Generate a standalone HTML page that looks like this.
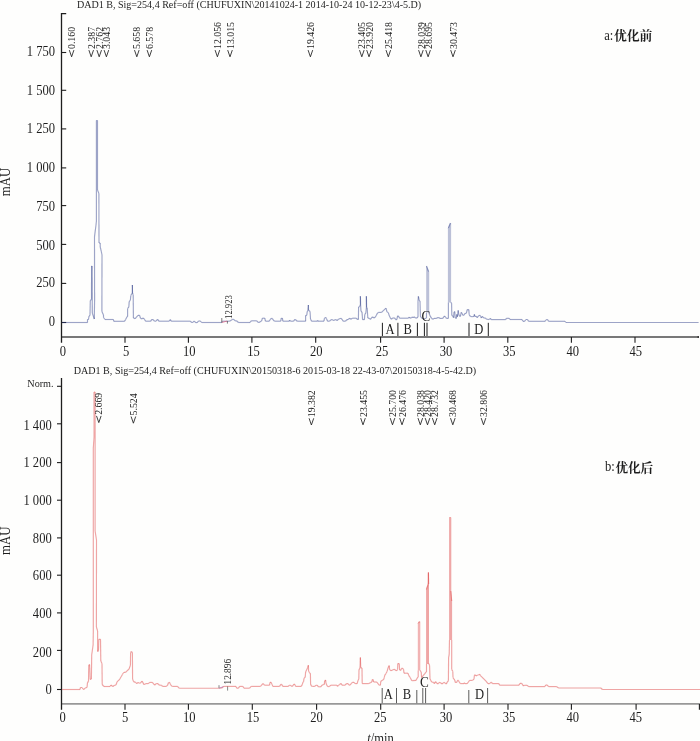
<!DOCTYPE html><html><head><meta charset="utf-8"><style>html,body{margin:0;padding:0;background:#fefefd}svg{display:block}</style></head><body><svg width="700" height="741" viewBox="0 0 700 741">
<rect width="700" height="741" fill="#fefefd"/>
<g opacity="0.999">
<path d="M61.5,336.9H698.8" stroke="#787878" stroke-width="2" fill="none"/>
<path d="M66.2,13.6H61.5V342.8" stroke="#1e1e1e" stroke-width="1.3" fill="none"/>
<g stroke="#1e1e1e" stroke-width="1.1" fill="none">
<path d="M61.5,322.5H66.2"/>
<path d="M61.5,283.4H66.2"/>
<path d="M61.5,244.4H66.2"/>
<path d="M61.5,205.6H66.2"/>
<path d="M61.5,167.9H66.2"/>
<path d="M61.5,128.9H66.2"/>
<path d="M61.5,90.3H66.2"/>
<path d="M61.5,52.5H66.2"/>
<path d="M125.0,337V342.8"/>
<path d="M188.4,337V342.8"/>
<path d="M251.9,337V342.8"/>
<path d="M315.7,337V342.8"/>
<path d="M380.6,337V342.8"/>
<path d="M444.1,337V342.8"/>
<path d="M507.8,337V342.8"/>
<path d="M571.4,337V342.8"/>
<path d="M635.0,337V342.8"/>
<path d="M698.2,336V338"/>
</g>
<g font-family="Liberation Serif, serif" font-size="13.3" fill="#1e1e1e">
<text transform="translate(55.00,325.80) scale(0.945,1.09)" font-size="13.3" text-anchor="end" >0</text>
<text transform="translate(55.00,287.10) scale(0.945,1.09)" font-size="13.3" text-anchor="end" >250</text>
<text transform="translate(55.00,249.90) scale(0.945,1.09)" font-size="13.3" text-anchor="end" >500</text>
<text transform="translate(55.00,211.00) scale(0.945,1.09)" font-size="13.3" text-anchor="end" >750</text>
<text transform="translate(55.00,171.60) scale(0.945,1.09)" font-size="13.3" text-anchor="end" >1 000</text>
<text transform="translate(55.00,132.80) scale(0.945,1.09)" font-size="13.3" text-anchor="end" >1 250</text>
<text transform="translate(55.00,95.20) scale(0.945,1.09)" font-size="13.3" text-anchor="end" >1 500</text>
<text transform="translate(55.00,56.20) scale(0.945,1.09)" font-size="13.3" text-anchor="end" >1 750</text>
<text transform="translate(62.90,355.50) scale(0.945,1.09)" font-size="13.3" text-anchor="middle" >0</text>
<text transform="translate(126.10,355.50) scale(0.945,1.09)" font-size="13.3" text-anchor="middle" >5</text>
<text transform="translate(189.30,355.50) scale(0.945,1.09)" font-size="13.3" text-anchor="middle" >10</text>
<text transform="translate(253.60,355.50) scale(0.945,1.09)" font-size="13.3" text-anchor="middle" >15</text>
<text transform="translate(316.30,355.50) scale(0.945,1.09)" font-size="13.3" text-anchor="middle" >20</text>
<text transform="translate(381.90,355.50) scale(0.945,1.09)" font-size="13.3" text-anchor="middle" >25</text>
<text transform="translate(445.90,355.50) scale(0.945,1.09)" font-size="13.3" text-anchor="middle" >30</text>
<text transform="translate(509.30,355.50) scale(0.945,1.09)" font-size="13.3" text-anchor="middle" >35</text>
<text transform="translate(572.70,355.50) scale(0.945,1.09)" font-size="13.3" text-anchor="middle" >40</text>
<text transform="translate(635.70,355.50) scale(0.945,1.09)" font-size="13.3" text-anchor="middle" >45</text>
</g>
<path d="M61.5,703.8H700" stroke="#989898" stroke-width="1.7" fill="none"/>
<path d="M61.5,378V709.7" stroke="#1e1e1e" stroke-width="1.3" fill="none"/>
<g stroke="#1e1e1e" stroke-width="1.1" fill="none">
<path d="M57,689.5H61.5"/>
<path d="M57,650.4H61.5"/>
<path d="M57,612.9H61.5"/>
<path d="M57,575.2H61.5"/>
<path d="M57,537.9H61.5"/>
<path d="M57,500.2H61.5"/>
<path d="M57,462.6H61.5"/>
<path d="M57,423.8H61.5"/>
<path d="M57,386.3H61.5"/>
<path d="M125.0,704V709.7"/>
<path d="M188.4,704V709.7"/>
<path d="M252.3,704V709.7"/>
<path d="M316.6,704V709.7"/>
<path d="M380.7,704V709.7"/>
<path d="M444.1,704V709.7"/>
<path d="M508.0,704V709.7"/>
<path d="M571.4,704V709.7"/>
<path d="M636.1,704V709.7"/>
<path d="M699.4,704V709.7"/>
</g>
<g font-family="Liberation Serif, serif" font-size="13.3" fill="#1e1e1e">
<text transform="translate(51.70,694.00) scale(0.945,1.09)" font-size="13.3" text-anchor="end" >0</text>
<text transform="translate(51.70,656.80) scale(0.945,1.09)" font-size="13.3" text-anchor="end" >200</text>
<text transform="translate(51.70,617.80) scale(0.945,1.09)" font-size="13.3" text-anchor="end" >400</text>
<text transform="translate(51.70,580.00) scale(0.945,1.09)" font-size="13.3" text-anchor="end" >600</text>
<text transform="translate(51.70,542.80) scale(0.945,1.09)" font-size="13.3" text-anchor="end" >800</text>
<text transform="translate(51.70,505.30) scale(0.945,1.09)" font-size="13.3" text-anchor="end" >1 000</text>
<text transform="translate(51.70,467.30) scale(0.945,1.09)" font-size="13.3" text-anchor="end" >1 200</text>
<text transform="translate(51.70,430.00) scale(0.945,1.09)" font-size="13.3" text-anchor="end" >1 400</text>
<text transform="translate(62.60,722.00) scale(0.945,1.09)" font-size="13.3" text-anchor="middle" >0</text>
<text transform="translate(125.20,722.00) scale(0.945,1.09)" font-size="13.3" text-anchor="middle" >5</text>
<text transform="translate(189.30,722.00) scale(0.945,1.09)" font-size="13.3" text-anchor="middle" >10</text>
<text transform="translate(253.10,722.00) scale(0.945,1.09)" font-size="13.3" text-anchor="middle" >15</text>
<text transform="translate(316.60,722.00) scale(0.945,1.09)" font-size="13.3" text-anchor="middle" >20</text>
<text transform="translate(380.20,722.00) scale(0.945,1.09)" font-size="13.3" text-anchor="middle" >25</text>
<text transform="translate(445.90,722.00) scale(0.945,1.09)" font-size="13.3" text-anchor="middle" >30</text>
<text transform="translate(508.90,722.00) scale(0.945,1.09)" font-size="13.3" text-anchor="middle" >35</text>
<text transform="translate(572.70,722.00) scale(0.945,1.09)" font-size="13.3" text-anchor="middle" >40</text>
<text transform="translate(635.70,722.00) scale(0.945,1.09)" font-size="13.3" text-anchor="middle" >45</text>
</g>
<g font-family="Liberation Serif, serif" fill="#1e1e1e"><text transform="translate(53.60,386.70) scale(1.0,1.09)" font-size="10.2" text-anchor="end" >Norm.</text></g>
<g font-family="Liberation Serif, serif" fill="#1e1e1e">
<text transform="translate(76.90,7.90) scale(1.0,1.09)" font-size="10.07" text-anchor="start" >DAD1 B, Sig=254,4 Ref=off (CHUFUXIN\20141024-1 2014-10-24 10-12-23\4-5.D)</text>
<text transform="translate(73.70,374.40) scale(1.0,1.09)" font-size="10.1" text-anchor="start" >DAD1 B, Sig=254,4 Ref=off (CHUFUXIN\20150318-6 2015-03-18 22-43-07\20150318-4-5-42.D)</text>
<text transform="translate(9.50,196.30) rotate(-90) scale(1.0,1.08)" font-size="12.8" text-anchor="start" >mAU</text>
<text transform="translate(9.50,554.90) rotate(-90) scale(1.0,1.08)" font-size="12.8" text-anchor="start" >mAU</text>
<text transform="translate(367.20,742.80) scale(1.0,1.09)" font-size="12.6" text-anchor="start" ><tspan font-style="italic">t</tspan>/min</text>
</g>
<g stroke="#273785" stroke-opacity="0.45" stroke-width="1.15" stroke-linecap="butt" fill="none"><path d="M62.0,322.5L87.5,322.5"/><path d="M87.5,322.5L87.5,319.5"/><path d="M87.5,319.5L88.5,319.5"/><path d="M88.5,319.5L89.0,316.0"/><path d="M89.0,316.0L90.0,315.5"/><path d="M90.0,315.5L90.3,300.5"/><path d="M90.3,300.5L91.5,299.5"/><path d="M91.5,299.5L91.6,266.0"/><path d="M91.6,266.0L92.1,266.0"/><path d="M92.1,266.0L92.3,313.0"/><path d="M92.3,313.0L94.3,319.0"/><path d="M94.3,319.0L94.6,300.0"/><path d="M94.6,300.0L94.5,236.6"/><path d="M94.5,236.6L96.0,225.0"/><path d="M96.0,225.0L96.4,221.0"/><path d="M96.4,221.0L96.4,120.5"/><path d="M96.4,120.5L97.5,120.5"/><path d="M97.5,120.5L97.5,190.0"/><path d="M97.5,190.0L98.9,193.5"/><path d="M98.9,193.5L99.0,243.0"/><path d="M99.0,243.0L100.2,243.0"/><path d="M100.2,243.0L100.2,247.0"/><path d="M100.2,247.0L101.0,250.0"/><path d="M101.0,250.0L102.0,255.0"/><path d="M102.0,255.0L101.9,311.6"/><path d="M101.9,311.6L103.5,315.0"/><path d="M103.5,315.0L103.5,317.5"/><path d="M103.5,317.5L105.0,319.5"/><path d="M105.0,319.5L113.4,319.5"/><path d="M113.4,319.5L113.8,321.3"/><path d="M113.8,321.3L124.4,321.3"/><path d="M124.4,321.3L125.6,319.6"/><path d="M125.6,319.6L126.4,318.0"/><path d="M126.4,318.0L127.2,316.4"/><path d="M127.2,316.4L127.6,316.4"/><path d="M127.6,316.4L127.6,308.4"/><path d="M127.6,308.4L128.8,307.2"/><path d="M128.8,307.2L129.2,301.6"/><path d="M129.2,301.6L130.4,300.0"/><path d="M130.4,300.0L130.8,295.6"/><path d="M130.8,295.6L131.6,294.0"/><path d="M131.6,294.0L132.4,293.2"/><path d="M132.4,293.2L132.4,285.0"/><path d="M132.4,285.0L132.5,293.2"/><path d="M132.5,293.2L133.2,294.4"/><path d="M133.2,294.4L133.4,318.0"/><path d="M133.4,318.0L135.2,318.6"/><path d="M135.2,318.6L136.0,317.6"/><path d="M136.0,317.6L138.0,315.4"/><path d="M138.0,315.4L139.6,315.4"/><path d="M139.6,315.4L140.4,318.0"/><path d="M140.4,318.0L141.6,319.0"/><path d="M141.6,319.0L143.2,318.0"/><path d="M143.2,318.0L144.4,319.2"/><path d="M144.4,319.2L145.6,321.2"/><path d="M145.6,321.2L150.8,321.2"/><path d="M150.8,321.2L151.6,319.6"/><path d="M151.6,319.6L153.2,319.6"/><path d="M153.2,319.6L154.4,321.2"/><path d="M154.4,321.2L156.0,321.2"/><path d="M156.0,321.2L157.2,319.6"/><path d="M157.2,319.6L158.0,319.6"/><path d="M158.0,319.6L158.8,321.2"/><path d="M158.8,321.2L169.2,321.2"/><path d="M169.2,321.2L170.4,319.6"/><path d="M170.4,319.6L171.2,321.2"/><path d="M171.2,321.2L190.4,321.2"/><path d="M190.4,321.2L191.6,322.5"/><path d="M191.6,322.5L192.8,322.5"/><path d="M192.8,322.5L193.6,321.2"/><path d="M193.6,321.2L194.4,321.2"/><path d="M194.4,321.2L195.6,322.6"/><path d="M195.6,322.6L197.2,322.6"/><path d="M197.2,322.6L198.4,321.0"/><path d="M198.4,321.0L200.4,321.0"/><path d="M200.4,321.0L201.6,322.5"/><path d="M201.6,322.5L221.8,322.5"/><path d="M221.8,322.5L222.4,321.2"/><path d="M222.4,321.2L229.6,321.2"/><path d="M229.6,321.2L231.6,320.0"/><path d="M231.6,320.0L232.4,319.4"/><path d="M232.4,319.4L233.6,319.4"/><path d="M233.6,319.4L235.2,320.8"/><path d="M235.2,320.8L236.8,320.8"/><path d="M236.8,320.8L238.4,322.5"/><path d="M238.4,322.5L250.0,322.5"/><path d="M250.0,322.5L251.2,320.8"/><path d="M251.2,320.8L256.8,320.8"/><path d="M256.8,320.8L258.4,322.5"/><path d="M258.4,322.5L259.2,322.5"/><path d="M259.2,322.5L260.8,321.2"/><path d="M260.8,321.2L261.6,321.2"/><path d="M261.6,321.2L262.4,318.2"/><path d="M262.4,318.2L264.8,318.2"/><path d="M264.8,318.2L265.4,321.2"/><path d="M265.4,321.2L269.2,321.2"/><path d="M269.2,321.2L270.4,319.2"/><path d="M270.4,319.2L271.6,318.2"/><path d="M271.6,318.2L272.4,318.6"/><path d="M272.4,318.6L273.2,320.0"/><path d="M273.2,320.0L274.4,321.2"/><path d="M274.4,321.2L280.8,321.2"/><path d="M280.8,321.2L281.2,318.2"/><path d="M281.2,318.2L282.4,318.2"/><path d="M282.4,318.2L282.8,321.2"/><path d="M282.8,321.2L289.2,321.2"/><path d="M289.2,321.2L289.6,320.2"/><path d="M289.6,320.2L290.4,321.2"/><path d="M290.4,321.2L293.6,321.2"/><path d="M293.6,321.2L294.8,319.4"/><path d="M294.8,319.4L295.6,319.8"/><path d="M295.6,319.8L297.2,321.2"/><path d="M297.2,321.2L305.6,321.2"/><path d="M305.6,321.2L305.6,315.6"/><path d="M305.6,315.6L306.8,315.2"/><path d="M306.8,315.2L307.2,311.6"/><path d="M307.2,311.6L308.0,310.4"/><path d="M308.0,310.4L308.4,305.0"/><path d="M308.4,305.0L308.5,310.0"/><path d="M308.5,310.0L309.2,310.8"/><path d="M309.2,310.8L310.0,311.2"/><path d="M310.0,311.2L310.5,319.0"/><path d="M310.5,319.0L311.6,321.2"/><path d="M311.6,321.2L317.2,321.2"/><path d="M317.2,321.2L317.6,320.4"/><path d="M317.6,320.4L318.0,321.2"/><path d="M318.0,321.2L324.0,321.2"/><path d="M324.0,321.2L324.4,318.4"/><path d="M324.4,318.4L325.6,317.4"/><path d="M325.6,317.4L326.4,318.4"/><path d="M326.4,318.4L327.6,321.2"/><path d="M327.6,321.2L329.6,321.2"/><path d="M329.6,321.2L331.2,319.6"/><path d="M331.2,319.6L332.4,319.6"/><path d="M332.4,319.6L333.6,320.6"/><path d="M333.6,320.6L335.6,319.6"/><path d="M335.6,319.6L337.2,320.6"/><path d="M337.2,320.6L338.4,319.2"/><path d="M338.4,319.2L340.8,318.2"/><path d="M340.8,318.2L342.0,319.2"/><path d="M342.0,319.2L343.2,321.2"/><path d="M343.2,321.2L345.6,321.2"/><path d="M345.6,321.2L346.8,319.6"/><path d="M346.8,319.6L348.0,319.6"/><path d="M348.0,319.6L349.6,318.2"/><path d="M349.6,318.2L350.8,319.2"/><path d="M350.8,319.2L352.4,318.2"/><path d="M352.4,318.2L356.4,318.2"/><path d="M356.4,318.2L357.2,319.4"/><path d="M357.2,319.4L358.4,319.4"/><path d="M358.4,319.4L358.6,307.0"/><path d="M358.6,307.0L359.6,306.4"/><path d="M359.6,306.4L360.4,304.8"/><path d="M360.4,304.8L360.4,296.2"/><path d="M360.4,296.2L360.6,305.0"/><path d="M360.6,305.0L361.0,311.2"/><path d="M361.0,311.2L362.0,312.0"/><path d="M362.0,312.0L362.6,319.6"/><path d="M362.6,319.6L364.4,319.6"/><path d="M364.4,319.6L364.8,314.4"/><path d="M364.8,314.4L365.8,313.2"/><path d="M365.8,313.2L366.4,307.6"/><path d="M366.4,307.6L366.4,296.2"/><path d="M366.4,296.2L366.6,307.6"/><path d="M366.6,307.6L367.2,308.0"/><path d="M367.2,308.0L367.8,318.0"/><path d="M367.8,318.0L369.2,318.4"/><path d="M369.2,318.4L370.4,319.4"/><path d="M370.4,319.4L371.2,318.4"/><path d="M371.2,318.4L372.4,316.8"/><path d="M372.4,316.8L374.0,318.0"/><path d="M374.0,318.0L375.2,317.2"/><path d="M375.2,317.2L376.4,315.2"/><path d="M376.4,315.2L377.2,313.6"/><path d="M377.2,313.6L378.4,312.4"/><path d="M378.4,312.4L381.6,312.4"/><path d="M381.6,312.4L382.8,311.2"/><path d="M382.8,311.2L386.0,308.2"/><path d="M386.0,308.2L386.4,309.4"/><path d="M386.4,309.4L386.8,311.6"/><path d="M386.8,311.6L388.4,312.8"/><path d="M388.4,312.8L389.2,315.6"/><path d="M389.2,315.6L390.0,317.2"/><path d="M390.0,317.2L390.8,318.8"/><path d="M390.8,318.8L391.6,319.2"/><path d="M391.6,319.2L392.4,318.0"/><path d="M392.4,318.0L394.8,318.0"/><path d="M394.8,318.0L395.6,319.6"/><path d="M395.6,319.6L396.8,319.6"/><path d="M396.8,319.6L397.6,315.8"/><path d="M397.6,315.8L398.4,316.0"/><path d="M398.4,316.0L399.6,318.2"/><path d="M399.6,318.2L408.4,318.2"/><path d="M408.4,318.2L409.2,317.2"/><path d="M409.2,317.2L410.0,318.2"/><path d="M410.0,318.2L411.6,317.6"/><path d="M411.6,317.6L412.4,316.8"/><path d="M412.4,316.8L413.2,317.6"/><path d="M413.2,317.6L414.0,316.8"/><path d="M414.0,316.8L415.6,318.0"/><path d="M415.6,318.0L416.4,318.2"/><path d="M416.4,318.2L417.6,317.2"/><path d="M417.6,317.2L418.0,317.2"/><path d="M418.0,317.2L418.0,301.2"/><path d="M418.0,301.2L418.4,296.4"/><path d="M418.4,296.4L419.2,300.4"/><path d="M419.2,300.4L420.0,301.0"/><path d="M420.0,301.0L420.4,316.4"/><path d="M420.4,316.4L421.6,318.0"/><path d="M421.6,318.0L422.8,318.8"/><path d="M422.8,318.8L424.5,318.6"/><path d="M424.5,318.6L426.2,318.2"/><path d="M426.5,266.0L428.6,271.5"/><path d="M428.9,312.4L429.3,314.0"/><path d="M429.3,314.0L430.4,316.4"/><path d="M430.4,316.4L431.6,318.4"/><path d="M431.6,318.4L432.8,319.2"/><path d="M432.8,319.2L434.0,318.4"/><path d="M434.0,318.4L436.4,318.4"/><path d="M436.4,318.4L437.6,317.6"/><path d="M437.6,317.6L438.8,317.6"/><path d="M438.8,317.6L440.0,318.4"/><path d="M440.0,318.4L442.8,318.4"/><path d="M442.8,318.4L444.4,316.0"/><path d="M444.4,316.0L445.6,317.2"/><path d="M445.6,317.2L446.4,318.4"/><path d="M446.4,318.4L448.2,318.4"/><path d="M448.4,228.0L450.4,223.0"/><path d="M450.7,302.4L451.6,303.2"/><path d="M451.6,303.2L451.8,315.2"/><path d="M451.8,315.2L452.8,316.4"/><path d="M452.8,316.4L453.6,317.6"/><path d="M453.6,317.6L454.0,312.0"/><path d="M454.0,312.0L454.8,311.6"/><path d="M454.8,311.6L455.2,318.0"/><path d="M455.2,318.0L456.4,318.4"/><path d="M456.4,318.4L456.8,314.4"/><path d="M456.8,314.4L457.4,316.8"/><path d="M457.4,316.8L458.2,310.4"/><path d="M458.2,310.4L458.8,314.6"/><path d="M458.8,314.6L459.6,316.2"/><path d="M459.6,316.2L460.4,316.4"/><path d="M460.4,316.4L461.2,312.4"/><path d="M461.2,312.4L462.0,313.2"/><path d="M462.0,313.2L462.8,315.2"/><path d="M462.8,315.2L464.0,315.2"/><path d="M464.0,315.2L464.8,313.6"/><path d="M464.8,313.6L466.4,313.2"/><path d="M466.4,313.2L467.2,309.6"/><path d="M467.2,309.6L468.8,309.6"/><path d="M468.8,309.6L469.2,314.8"/><path d="M469.2,314.8L470.4,316.4"/><path d="M470.4,316.4L472.0,316.8"/><path d="M472.0,316.8L474.0,316.4"/><path d="M474.0,316.4L474.4,314.4"/><path d="M474.4,314.4L474.8,316.4"/><path d="M474.8,316.4L476.4,316.4"/><path d="M476.4,316.4L477.2,317.6"/><path d="M477.2,317.6L478.4,316.0"/><path d="M478.4,316.0L479.6,315.2"/><path d="M479.6,315.2L480.8,316.4"/><path d="M480.8,316.4L481.2,318.0"/><path d="M481.2,318.0L482.4,316.4"/><path d="M482.4,316.4L483.6,318.0"/><path d="M483.6,318.0L485.6,318.0"/><path d="M485.6,318.0L486.4,319.2"/><path d="M486.4,319.2L488.0,319.2"/><path d="M488.0,319.2L488.4,319.6"/><path d="M488.4,319.6L489.6,319.2"/><path d="M489.6,319.2L490.4,318.4"/><path d="M490.4,318.4L491.2,319.6"/><path d="M491.2,319.6L505.6,319.6"/><path d="M505.6,319.6L506.4,318.4"/><path d="M506.4,318.4L509.0,318.2"/><path d="M509.0,318.2L510.0,319.5"/><path d="M510.0,319.5L522.0,319.5"/><path d="M522.0,319.5L523.0,321.3"/><path d="M523.0,321.3L524.5,321.3"/><path d="M524.5,321.3L526.0,319.5"/><path d="M526.0,319.5L527.5,319.5"/><path d="M527.5,319.5L528.5,321.3"/><path d="M528.5,321.3L545.0,321.3"/><path d="M545.0,321.3L546.5,319.5"/><path d="M546.5,319.5L547.5,319.5"/><path d="M547.5,319.5L548.5,321.3"/><path d="M548.5,321.3L565.0,321.3"/><path d="M565.0,321.3L566.0,322.5"/><path d="M566.0,322.5L698.6,322.5"/></g>
<polygon points="426.2,312.6 426.2,266.3 426.8,266.0 428.6,271.0 429.2,271.6 429.2,312.6" fill="#273785" fill-opacity="0.31"/>
<polygon points="447.9,302.6 447.9,228.3 450.2,223.0 451.1,223.0 451.1,302.6" fill="#273785" fill-opacity="0.31"/>
<g stroke="#273785" stroke-opacity="0.45" stroke-width="1.15" stroke-linecap="butt" fill="none"><path d="M426.5,312.6L426.5,318.2"/></g>
<g stroke="#273785" stroke-opacity="0.45" stroke-width="1.15" stroke-linecap="butt" fill="none"><path d="M448.4,302.6L448.4,318.4"/></g>
<g stroke="#e15252" stroke-opacity="0.52" stroke-width="1.15" stroke-linecap="butt" fill="none"><path d="M62.0,689.5L80.0,689.5"/><path d="M80.0,689.5L80.5,687.5"/><path d="M80.5,687.5L82.0,687.5"/><path d="M82.0,687.5L83.0,689.0"/><path d="M83.0,689.0L84.0,689.5"/><path d="M84.0,689.5L85.0,688.0"/><path d="M85.0,688.0L87.0,687.5"/><path d="M87.0,687.5L87.5,682.5"/><path d="M87.5,682.5L88.5,681.5"/><path d="M88.5,681.5L88.8,665.0"/><path d="M88.8,665.0L89.6,664.5"/><path d="M89.6,664.5L90.2,679.5"/><path d="M90.2,679.5L91.4,679.0"/><path d="M91.4,679.0L91.7,655.0"/><path d="M91.7,655.0L93.1,645.0"/><path d="M93.1,645.0L93.3,632.0"/><path d="M93.3,632.0L93.3,448.0"/><path d="M93.3,448.0L94.1,437.0"/><path d="M94.1,437.0L94.0,392.0"/><path d="M94.0,392.0L95.1,392.0"/><path d="M95.1,392.0L95.1,531.0"/><path d="M95.1,531.0L96.5,540.0"/><path d="M96.5,540.0L96.4,627.0"/><path d="M96.4,627.0L97.6,631.0"/><path d="M97.6,631.0L97.6,651.5"/><path d="M97.6,651.5L98.5,650.5"/><path d="M98.5,650.5L98.8,639.3"/><path d="M98.8,639.3L100.5,639.3"/><path d="M100.5,639.3L100.8,661.0"/><path d="M100.8,661.0L102.0,663.5"/><path d="M102.0,663.5L102.2,684.5"/><path d="M102.2,684.5L103.5,686.0"/><path d="M103.5,686.0L104.0,686.5"/><path d="M104.0,686.5L110.0,686.5"/><path d="M110.0,686.5L111.0,685.0"/><path d="M111.0,685.0L112.0,686.0"/><path d="M112.0,686.0L113.0,686.5"/><path d="M113.0,686.5L114.0,685.5"/><path d="M114.0,685.5L116.0,685.0"/><path d="M116.0,685.0L117.0,682.0"/><path d="M117.0,682.0L118.0,680.8"/><path d="M118.0,680.8L119.2,680.0"/><path d="M119.2,680.0L120.0,678.8"/><path d="M120.0,678.8L120.8,677.2"/><path d="M120.8,677.2L121.6,676.0"/><path d="M121.6,676.0L122.4,674.4"/><path d="M122.4,674.4L123.2,673.2"/><path d="M123.2,673.2L124.0,672.4"/><path d="M124.0,672.4L125.6,672.4"/><path d="M125.6,672.4L126.8,671.2"/><path d="M126.8,671.2L128.0,670.0"/><path d="M128.0,670.0L129.2,668.8"/><path d="M129.2,668.8L129.6,667.2"/><path d="M129.6,667.2L130.4,665.6"/><path d="M130.4,665.6L130.6,652.4"/><path d="M130.6,652.4L131.2,651.6"/><path d="M131.2,651.6L132.4,652.4"/><path d="M132.4,652.4L132.6,679.2"/><path d="M132.6,679.2L133.6,681.6"/><path d="M133.6,681.6L135.6,682.4"/><path d="M135.6,682.4L136.8,683.6"/><path d="M136.8,683.6L138.0,682.4"/><path d="M138.0,682.4L139.6,683.2"/><path d="M139.6,683.2L140.4,683.2"/><path d="M140.4,683.2L142.0,681.2"/><path d="M142.0,681.2L143.2,682.8"/><path d="M143.2,682.8L143.6,684.4"/><path d="M143.6,684.4L144.8,684.4"/><path d="M144.8,684.4L145.6,683.6"/><path d="M145.6,683.6L148.4,683.6"/><path d="M148.4,683.6L149.6,682.4"/><path d="M149.6,682.4L152.4,682.4"/><path d="M152.4,682.4L153.6,684.0"/><path d="M153.6,684.0L154.8,685.2"/><path d="M154.8,685.2L155.6,684.0"/><path d="M155.6,684.0L156.4,683.6"/><path d="M156.4,683.6L158.0,683.6"/><path d="M158.0,683.6L159.2,685.2"/><path d="M159.2,685.2L161.6,685.2"/><path d="M161.6,685.2L162.4,686.4"/><path d="M162.4,686.4L166.4,686.4"/><path d="M166.4,686.4L167.6,685.2"/><path d="M167.6,685.2L168.4,682.8"/><path d="M168.4,682.8L169.6,682.4"/><path d="M169.6,682.4L170.4,684.4"/><path d="M170.4,684.4L171.6,686.0"/><path d="M171.6,686.0L172.4,686.4"/><path d="M172.4,686.4L177.6,686.4"/><path d="M177.6,686.4L178.8,688.0"/><path d="M178.8,688.0L179.2,688.2"/><path d="M179.2,688.2L218.4,688.2"/><path d="M218.4,688.2L222.0,688.0"/><path d="M222.0,688.0L223.6,686.4"/><path d="M223.6,686.4L236.0,686.4"/><path d="M236.0,686.4L236.8,688.2"/><path d="M236.8,688.2L238.4,688.2"/><path d="M238.4,688.2L239.6,686.4"/><path d="M239.6,686.4L242.8,686.4"/><path d="M242.8,686.4L244.0,688.2"/><path d="M244.0,688.2L249.6,688.2"/><path d="M249.6,688.2L251.2,686.4"/><path d="M251.2,686.4L260.4,686.4"/><path d="M260.4,686.4L261.2,685.6"/><path d="M261.2,685.6L262.8,683.6"/><path d="M262.8,683.6L263.6,684.0"/><path d="M263.6,684.0L264.4,685.2"/><path d="M264.4,685.2L269.6,685.2"/><path d="M269.6,685.2L270.0,682.4"/><path d="M270.0,682.4L271.2,682.4"/><path d="M271.2,682.4L272.0,684.4"/><path d="M272.0,684.4L272.8,686.4"/><path d="M272.8,686.4L279.6,686.4"/><path d="M279.6,686.4L280.8,684.4"/><path d="M280.8,684.4L281.6,684.4"/><path d="M281.6,684.4L282.8,686.4"/><path d="M282.8,686.4L288.4,686.4"/><path d="M288.4,686.4L289.2,685.2"/><path d="M289.2,685.2L290.4,685.2"/><path d="M290.4,685.2L291.6,686.4"/><path d="M291.6,686.4L292.4,686.4"/><path d="M292.4,686.4L294.0,684.0"/><path d="M294.0,684.0L294.8,684.4"/><path d="M294.8,684.4L295.6,686.4"/><path d="M295.6,686.4L301.2,686.4"/><path d="M301.2,686.4L302.4,684.4"/><path d="M302.4,684.4L302.8,682.4"/><path d="M302.8,682.4L303.6,681.6"/><path d="M303.6,681.6L304.0,678.4"/><path d="M304.0,678.4L305.2,677.2"/><path d="M305.2,677.2L305.6,672.0"/><path d="M305.6,672.0L306.8,669.6"/><path d="M306.8,669.6L307.6,667.6"/><path d="M307.6,667.6L308.4,665.2"/><path d="M308.4,665.2L308.6,671.2"/><path d="M308.6,671.2L309.6,672.8"/><path d="M309.6,672.8L310.4,673.6"/><path d="M310.4,673.6L310.6,684.4"/><path d="M310.6,684.4L311.6,686.2"/><path d="M311.6,686.2L312.4,686.4"/><path d="M312.4,686.4L314.8,686.4"/><path d="M314.8,686.4L316.0,685.2"/><path d="M316.0,685.2L317.2,685.2"/><path d="M317.2,685.2L318.4,686.8"/><path d="M318.4,686.8L320.8,686.8"/><path d="M320.8,686.8L322.0,685.2"/><path d="M322.0,685.2L323.6,684.4"/><path d="M323.6,684.4L324.4,684.4"/><path d="M324.4,684.4L324.6,681.0"/><path d="M324.6,681.0L325.6,680.0"/><path d="M325.6,680.0L326.0,683.2"/><path d="M326.0,683.2L327.2,686.0"/><path d="M327.2,686.0L328.4,686.8"/><path d="M328.4,686.8L329.6,686.4"/><path d="M329.6,686.4L330.8,685.2"/><path d="M330.8,685.2L336.8,685.2"/><path d="M336.8,685.2L337.6,686.4"/><path d="M337.6,686.4L338.4,685.2"/><path d="M338.4,685.2L339.6,684.8"/><path d="M339.6,684.8L340.4,683.6"/><path d="M340.4,683.6L341.2,683.6"/><path d="M341.2,683.6L342.0,685.2"/><path d="M342.0,685.2L345.2,685.2"/><path d="M345.2,685.2L346.4,683.6"/><path d="M346.4,683.6L348.0,683.6"/><path d="M348.0,683.6L349.2,685.2"/><path d="M349.2,685.2L350.0,685.2"/><path d="M350.0,685.2L351.2,683.6"/><path d="M351.2,683.6L352.4,682.4"/><path d="M352.4,682.4L354.0,682.4"/><path d="M354.0,682.4L355.2,683.6"/><path d="M355.2,683.6L357.2,683.6"/><path d="M357.2,683.6L358.0,680.4"/><path d="M358.0,680.4L358.8,679.2"/><path d="M358.8,679.2L359.0,669.6"/><path d="M359.0,669.6L360.0,668.0"/><path d="M360.0,668.0L360.4,657.6"/><path d="M360.4,657.6L360.7,667.6"/><path d="M360.7,667.6L362.0,668.0"/><path d="M362.0,668.0L362.2,683.6"/><path d="M362.2,683.6L368.8,683.6"/><path d="M368.8,683.6L370.8,682.4"/><path d="M370.8,682.4L372.0,682.0"/><path d="M372.0,682.0L372.2,679.6"/><path d="M372.2,679.6L373.2,679.6"/><path d="M373.2,679.6L373.6,682.0"/><path d="M373.6,682.0L376.8,682.0"/><path d="M376.8,682.0L378.0,683.6"/><path d="M378.0,683.6L379.2,685.2"/><path d="M379.2,685.2L380.4,685.2"/><path d="M380.4,685.2L380.8,681.2"/><path d="M380.8,681.2L382.0,680.4"/><path d="M382.0,680.4L383.6,679.6"/><path d="M383.6,679.6L384.4,677.2"/><path d="M384.4,677.2L384.8,675.2"/><path d="M384.8,675.2L386.0,673.6"/><path d="M386.0,673.6L387.2,671.2"/><path d="M387.2,671.2L388.0,668.0"/><path d="M388.0,668.0L389.2,665.6"/><path d="M389.2,665.6L389.6,669.6"/><path d="M389.6,669.6L391.2,670.8"/><path d="M391.2,670.8L392.4,670.0"/><path d="M392.4,670.0L394.4,669.2"/><path d="M394.4,669.2L395.2,670.0"/><path d="M395.2,670.0L396.4,670.8"/><path d="M396.4,670.8L397.6,669.6"/><path d="M397.6,669.6L397.8,663.6"/><path d="M397.8,663.6L399.2,663.6"/><path d="M399.2,663.6L399.6,670.0"/><path d="M399.6,670.0L400.8,670.4"/><path d="M400.8,670.4L401.6,668.4"/><path d="M401.6,668.4L402.4,668.0"/><path d="M402.4,668.0L403.6,669.6"/><path d="M403.6,669.6L404.0,673.2"/><path d="M404.0,673.2L408.0,673.2"/><path d="M408.0,673.2L408.8,675.6"/><path d="M408.8,675.6L410.0,677.2"/><path d="M410.0,677.2L410.8,678.8"/><path d="M410.8,678.8L411.6,680.4"/><path d="M411.6,680.4L412.4,680.6"/><path d="M412.4,680.6L416.0,680.4"/><path d="M416.0,680.4L417.2,678.0"/><path d="M417.2,678.0L418.0,677.2"/><path d="M418.3,623.0L419.6,621.5"/><path d="M420.0,670.4L421.2,672.0"/><path d="M421.2,672.0L421.6,677.6"/><path d="M421.6,677.6L423.2,675.6"/><path d="M423.2,675.6L424.8,673.6"/><path d="M424.8,673.6L426.2,672.0"/><path d="M426.4,589.5L428.2,584.0"/><path d="M428.2,584.0L428.4,572.5"/><path d="M428.4,572.5L428.7,584.0"/><path d="M428.7,663.6L429.6,665.6"/><path d="M429.6,665.6L430.0,679.2"/><path d="M430.0,679.2L430.6,680.0"/><path d="M430.6,680.0L431.6,682.0"/><path d="M431.6,682.0L433.6,682.4"/><path d="M433.6,682.4L434.4,683.6"/><path d="M434.4,683.6L435.6,681.6"/><path d="M435.6,681.6L436.8,683.2"/><path d="M436.8,683.2L437.6,684.0"/><path d="M437.6,684.0L438.8,682.8"/><path d="M438.8,682.8L440.0,682.4"/><path d="M440.0,682.4L441.2,683.2"/><path d="M441.2,683.2L442.0,684.0"/><path d="M442.0,684.0L443.2,682.8"/><path d="M443.2,682.8L444.4,682.4"/><path d="M444.4,682.4L445.6,683.6"/><path d="M445.6,683.6L446.4,684.0"/><path d="M446.4,684.0L447.2,682.0"/><path d="M447.2,682.0L448.4,680.8"/><path d="M448.4,680.8L448.6,657.6"/><path d="M448.6,657.6L449.2,654.4"/><path d="M449.2,654.4L449.5,640.0"/><path d="M449.5,517.5L450.7,517.5"/><path d="M450.8,591.0L451.7,601.0"/><path d="M451.7,669.6L452.8,671.2"/><path d="M452.8,671.2L453.0,677.6"/><path d="M453.0,677.6L454.0,679.2"/><path d="M454.0,679.2L454.8,680.0"/><path d="M454.8,680.0L455.2,682.4"/><path d="M455.2,682.4L456.8,682.4"/><path d="M456.8,682.4L457.6,680.4"/><path d="M457.6,680.4L458.4,680.4"/><path d="M458.4,680.4L459.2,682.0"/><path d="M459.2,682.0L460.4,683.6"/><path d="M460.4,683.6L464.0,683.6"/><path d="M464.0,683.6L464.4,682.8"/><path d="M464.4,682.8L464.8,683.6"/><path d="M464.8,683.6L467.2,683.6"/><path d="M467.2,683.6L468.4,682.0"/><path d="M468.4,682.0L469.6,680.4"/><path d="M469.6,680.4L472.4,680.4"/><path d="M472.4,680.4L474.0,679.2"/><path d="M474.0,679.2L474.4,675.2"/><path d="M474.4,675.2L475.2,674.8"/><path d="M475.2,674.8L476.0,676.0"/><path d="M476.0,676.0L477.2,675.2"/><path d="M477.2,675.2L478.8,674.8"/><path d="M478.8,674.8L480.0,674.4"/><path d="M480.0,674.4L480.4,675.6"/><path d="M480.4,675.6L482.0,677.2"/><path d="M482.0,677.2L484.0,679.2"/><path d="M484.0,679.2L486.0,681.2"/><path d="M486.0,681.2L488.0,683.6"/><path d="M488.0,683.6L489.6,683.6"/><path d="M489.6,683.6L490.8,682.4"/><path d="M490.8,682.4L491.6,682.4"/><path d="M491.6,682.4L492.4,683.6"/><path d="M492.4,683.6L498.8,683.6"/><path d="M498.8,683.6L499.6,685.2"/><path d="M499.6,685.2L519.0,685.2"/><path d="M519.0,685.2L520.0,683.4"/><path d="M520.0,683.4L521.7,683.4"/><path d="M521.7,683.4L523.4,686.0"/><path d="M523.4,686.0L524.3,685.3"/><path d="M524.3,685.3L527.1,685.3"/><path d="M527.1,685.3L528.6,686.6"/><path d="M528.6,686.6L544.9,686.6"/><path d="M544.9,686.6L545.7,685.0"/><path d="M545.7,685.0L547.1,685.0"/><path d="M547.1,685.0L548.6,686.6"/><path d="M548.6,686.6L556.4,686.6"/><path d="M556.4,686.6L558.6,688.0"/><path d="M558.6,688.0L601.0,688.0"/><path d="M601.0,688.0L602.3,689.5"/><path d="M602.3,689.5L700.0,689.5"/></g>
<polygon points="417.8,670.6 417.8,623.2 419.4,621.4 420.3,621.4 420.3,670.6" fill="#e15252" fill-opacity="0.43"/>
<polygon points="426.1,664.0 426.1,589.6 427.9,584.0 428.0,572.4 428.9,572.4 429.0,584.0 429.0,664.0" fill="#e15252" fill-opacity="0.52"/>
<polygon points="449.1,640.0 449.1,517.4 451.3,517.4 451.3,591.0 452.1,601.0 452.1,640.0" fill="#e15252" fill-opacity="0.5"/>
<g stroke="#e15252" stroke-opacity="0.52" stroke-width="1.15" stroke-linecap="butt" fill="none"><path d="M418.2,670.6L418.2,677.2"/></g>
<g stroke="#e15252" stroke-opacity="0.52" stroke-width="1.15" stroke-linecap="butt" fill="none"><path d="M426.5,664.0L426.5,672.0"/></g>
<g stroke="#e15252" stroke-opacity="0.52" stroke-width="1.15" stroke-linecap="butt" fill="none"><path d="M451.7,640.0L451.7,669.6"/></g>
<path d="M69.3,50.1L71.6,56.8L73.9,50.1" fill="none" stroke="#1e1e1e" stroke-width="0.85"/><g font-family="Liberation Serif, serif" fill="#1e1e1e"><text transform="translate(75.20,49.00) rotate(-90) scale(1.0,1.12)" font-size="9.8" text-anchor="start" >0.160</text></g>
<path d="M88.9,50.1L91.2,56.8L93.5,50.1" fill="none" stroke="#1e1e1e" stroke-width="0.85"/><g font-family="Liberation Serif, serif" fill="#1e1e1e"><text transform="translate(94.80,49.00) rotate(-90) scale(1.0,1.12)" font-size="9.8" text-anchor="start" >2.387</text></g>
<path d="M96.9,50.1L99.2,56.8L101.5,50.1" fill="none" stroke="#1e1e1e" stroke-width="0.85"/><g font-family="Liberation Serif, serif" fill="#1e1e1e"><text transform="translate(102.80,49.00) rotate(-90) scale(1.0,1.12)" font-size="9.8" text-anchor="start" >2.762</text></g>
<path d="M104.1,50.1L106.4,56.8L108.7,50.1" fill="none" stroke="#1e1e1e" stroke-width="0.85"/><g font-family="Liberation Serif, serif" fill="#1e1e1e"><text transform="translate(110.00,49.00) rotate(-90) scale(1.0,1.12)" font-size="9.8" text-anchor="start" >3.043</text></g>
<path d="M134.5,50.1L136.8,56.8L139.1,50.1" fill="none" stroke="#1e1e1e" stroke-width="0.85"/><g font-family="Liberation Serif, serif" fill="#1e1e1e"><text transform="translate(140.40,49.00) rotate(-90) scale(1.0,1.12)" font-size="9.8" text-anchor="start" >5.658</text></g>
<path d="M147.1,50.1L149.4,56.8L151.7,50.1" fill="none" stroke="#1e1e1e" stroke-width="0.85"/><g font-family="Liberation Serif, serif" fill="#1e1e1e"><text transform="translate(153.00,49.00) rotate(-90) scale(1.0,1.12)" font-size="9.8" text-anchor="start" >6.578</text></g>
<path d="M215.1,50.1L217.4,56.8L219.7,50.1" fill="none" stroke="#1e1e1e" stroke-width="0.85"/><g font-family="Liberation Serif, serif" fill="#1e1e1e"><text transform="translate(221.00,49.00) rotate(-90) scale(1.0,1.12)" font-size="9.8" text-anchor="start" >12.056</text></g>
<path d="M227.7,50.1L230.0,56.8L232.3,50.1" fill="none" stroke="#1e1e1e" stroke-width="0.85"/><g font-family="Liberation Serif, serif" fill="#1e1e1e"><text transform="translate(233.60,49.00) rotate(-90) scale(1.0,1.12)" font-size="9.8" text-anchor="start" >13.015</text></g>
<path d="M308.1,50.1L310.4,56.8L312.7,50.1" fill="none" stroke="#1e1e1e" stroke-width="0.85"/><g font-family="Liberation Serif, serif" fill="#1e1e1e"><text transform="translate(314.00,49.00) rotate(-90) scale(1.0,1.12)" font-size="9.8" text-anchor="start" >19.426</text></g>
<path d="M359.5,50.1L361.8,56.8L364.1,50.1" fill="none" stroke="#1e1e1e" stroke-width="0.85"/><g font-family="Liberation Serif, serif" fill="#1e1e1e"><text transform="translate(365.40,49.00) rotate(-90) scale(1.0,1.12)" font-size="9.8" text-anchor="start" >23.405</text></g>
<path d="M366.7,50.1L369.0,56.8L371.3,50.1" fill="none" stroke="#1e1e1e" stroke-width="0.85"/><g font-family="Liberation Serif, serif" fill="#1e1e1e"><text transform="translate(372.60,49.00) rotate(-90) scale(1.0,1.12)" font-size="9.8" text-anchor="start" >23.920</text></g>
<path d="M386.0,50.1L388.3,56.8L390.6,50.1" fill="none" stroke="#1e1e1e" stroke-width="0.85"/><g font-family="Liberation Serif, serif" fill="#1e1e1e"><text transform="translate(391.90,49.00) rotate(-90) scale(1.0,1.12)" font-size="9.8" text-anchor="start" >25.418</text></g>
<path d="M418.6,50.1L420.9,56.8L423.2,50.1" fill="none" stroke="#1e1e1e" stroke-width="0.85"/><g font-family="Liberation Serif, serif" fill="#1e1e1e"><text transform="translate(424.50,49.00) rotate(-90) scale(1.0,1.12)" font-size="9.8" text-anchor="start" >28.039</text></g>
<path d="M425.8,50.1L428.1,56.8L430.4,50.1" fill="none" stroke="#1e1e1e" stroke-width="0.85"/><g font-family="Liberation Serif, serif" fill="#1e1e1e"><text transform="translate(431.70,49.00) rotate(-90) scale(1.0,1.12)" font-size="9.8" text-anchor="start" >28.695</text></g>
<path d="M450.7,50.1L453.0,56.8L455.3,50.1" fill="none" stroke="#1e1e1e" stroke-width="0.85"/><g font-family="Liberation Serif, serif" fill="#1e1e1e"><text transform="translate(456.60,49.00) rotate(-90) scale(1.0,1.12)" font-size="9.8" text-anchor="start" >30.473</text></g>
<path d="M96.5,415.9L98.8,422.6L101.1,415.9" fill="none" stroke="#1e1e1e" stroke-width="0.85"/><g font-family="Liberation Serif, serif" fill="#1e1e1e"><text transform="translate(102.40,414.80) rotate(-90) scale(1.0,1.12)" font-size="9.8" text-anchor="start" >2.669</text></g>
<path d="M131.1,416.5L133.4,423.2L135.7,416.5" fill="none" stroke="#1e1e1e" stroke-width="0.85"/><g font-family="Liberation Serif, serif" fill="#1e1e1e"><text transform="translate(137.00,415.40) rotate(-90) scale(1.0,1.12)" font-size="9.8" text-anchor="start" >5.524</text></g>
<path d="M309.1,418.3L311.4,425.0L313.7,418.3" fill="none" stroke="#1e1e1e" stroke-width="0.85"/><g font-family="Liberation Serif, serif" fill="#1e1e1e"><text transform="translate(315.00,417.20) rotate(-90) scale(1.0,1.12)" font-size="9.8" text-anchor="start" >19.382</text></g>
<path d="M360.7,418.1L363.0,424.8L365.3,418.1" fill="none" stroke="#1e1e1e" stroke-width="0.85"/><g font-family="Liberation Serif, serif" fill="#1e1e1e"><text transform="translate(366.60,417.00) rotate(-90) scale(1.0,1.12)" font-size="9.8" text-anchor="start" >23.455</text></g>
<path d="M390.2,418.1L392.5,424.8L394.8,418.1" fill="none" stroke="#1e1e1e" stroke-width="0.85"/><g font-family="Liberation Serif, serif" fill="#1e1e1e"><text transform="translate(396.10,417.00) rotate(-90) scale(1.0,1.12)" font-size="9.8" text-anchor="start" >25.700</text></g>
<path d="M399.7,418.1L402.0,424.8L404.3,418.1" fill="none" stroke="#1e1e1e" stroke-width="0.85"/><g font-family="Liberation Serif, serif" fill="#1e1e1e"><text transform="translate(405.60,417.00) rotate(-90) scale(1.0,1.12)" font-size="9.8" text-anchor="start" >26.476</text></g>
<path d="M418.0,418.1L420.3,424.8L422.6,418.1" fill="none" stroke="#1e1e1e" stroke-width="0.85"/><g font-family="Liberation Serif, serif" fill="#1e1e1e"><text transform="translate(423.90,417.00) rotate(-90) scale(1.0,1.12)" font-size="9.8" text-anchor="start" >28.038</text></g>
<path d="M425.2,418.1L427.5,424.8L429.8,418.1" fill="none" stroke="#1e1e1e" stroke-width="0.85"/><g font-family="Liberation Serif, serif" fill="#1e1e1e"><text transform="translate(431.10,417.00) rotate(-90) scale(1.0,1.12)" font-size="9.8" text-anchor="start" >28.420</text></g>
<path d="M432.4,418.1L434.7,424.8L437.0,418.1" fill="none" stroke="#1e1e1e" stroke-width="0.85"/><g font-family="Liberation Serif, serif" fill="#1e1e1e"><text transform="translate(438.30,417.00) rotate(-90) scale(1.0,1.12)" font-size="9.8" text-anchor="start" >28.732</text></g>
<path d="M450.5,418.1L452.8,424.8L455.1,418.1" fill="none" stroke="#1e1e1e" stroke-width="0.85"/><g font-family="Liberation Serif, serif" fill="#1e1e1e"><text transform="translate(456.40,417.00) rotate(-90) scale(1.0,1.12)" font-size="9.8" text-anchor="start" >30.468</text></g>
<path d="M481.2,418.1L483.5,424.8L485.8,418.1" fill="none" stroke="#1e1e1e" stroke-width="0.85"/><g font-family="Liberation Serif, serif" fill="#1e1e1e"><text transform="translate(487.10,417.00) rotate(-90) scale(1.0,1.12)" font-size="9.8" text-anchor="start" >32.806</text></g>
<g font-family="Liberation Serif, serif" fill="#1e1e1e"><text transform="translate(231.80,318.90) rotate(-90) scale(1.0,1.2)" font-size="8.6" text-anchor="start" >12.923</text><text transform="translate(231.30,684.50) rotate(-90) scale(1.0,1.12)" font-size="9.3" text-anchor="start" >12.896</text></g>
<path d="M221.8,318V322.6M227.4,321V323.6" stroke="#444" stroke-width="0.7"/>
<path d="M222,322.4L227.2,321.1" stroke="#e06080" stroke-width="0.7"/>
<path d="M219,685.2V688.2M227.6,686.4V690.6" stroke="#555" stroke-width="0.7"/>
<path d="M219.2,688.2L223.6,686.6" stroke="#b070b0" stroke-width="0.7"/>
<path d="M382.4,322.8V336M397.9,322.8V336M417.4,322.8V336M424.4,322.8V336M427,322.8V336M469,322.8V336M488.3,322.8V336" stroke="#1e1e1e" stroke-width="1" fill="none"/>
<g font-family="Liberation Serif, serif" font-size="13.2" fill="#1e1e1e" text-anchor="middle">
<text transform="translate(390.10,333.50) scale(1.0,1.09)" font-size="12.6" text-anchor="middle" >A</text><text transform="translate(407.70,333.50) scale(1.0,1.09)" font-size="12.6" text-anchor="middle" >B</text><text transform="translate(478.70,333.50) scale(1.0,1.09)" font-size="12.6" text-anchor="middle" >D</text><text transform="translate(426.00,321.20) scale(1.0,1.09)" font-size="13.2" text-anchor="middle" >C</text>
</g>
<path d="M382.2,688V703.2M396.5,688V703.2M416.8,690V703.2M422.8,688V703.2M425.6,688V703.2M468.8,690V703.2M487.6,688V703.2" stroke="#4a4a4a" stroke-width="0.9" fill="none"/>
<g font-family="Liberation Serif, serif" font-size="13.2" fill="#1e1e1e" text-anchor="middle">
<text transform="translate(388.40,698.90) scale(1.0,1.09)" font-size="12.6" text-anchor="middle" >A</text><text transform="translate(407.00,698.90) scale(1.0,1.09)" font-size="12.6" text-anchor="middle" >B</text><text transform="translate(479.50,698.90) scale(1.0,1.09)" font-size="12.6" text-anchor="middle" >D</text><text transform="translate(424.50,686.60) scale(1.0,1.09)" font-size="13.2" text-anchor="middle" >C</text>
</g>
<g font-family="Liberation Serif, serif" fill="#1e1e1e"><text transform="translate(604.20,39.60) scale(1.0,1.09)" font-size="12.6" text-anchor="start" >a:</text></g><text x="613.9" y="40" font-family="'Liberation Serif', 'Noto Serif CJK SC', serif" font-weight="bold" font-size="12.85" fill="#1e1e1e" text-anchor="start">优化前</text>
<g font-family="Liberation Serif, serif" fill="#1e1e1e"><text transform="translate(605.00,471.20) scale(1.0,1.09)" font-size="12.6" text-anchor="start" >b:</text></g><text x="615.4" y="471.6" font-family="'Liberation Serif', 'Noto Serif CJK SC', serif" font-weight="bold" font-size="12.6" fill="#1e1e1e" text-anchor="start">优化后</text>
</g>
</svg></body></html>
